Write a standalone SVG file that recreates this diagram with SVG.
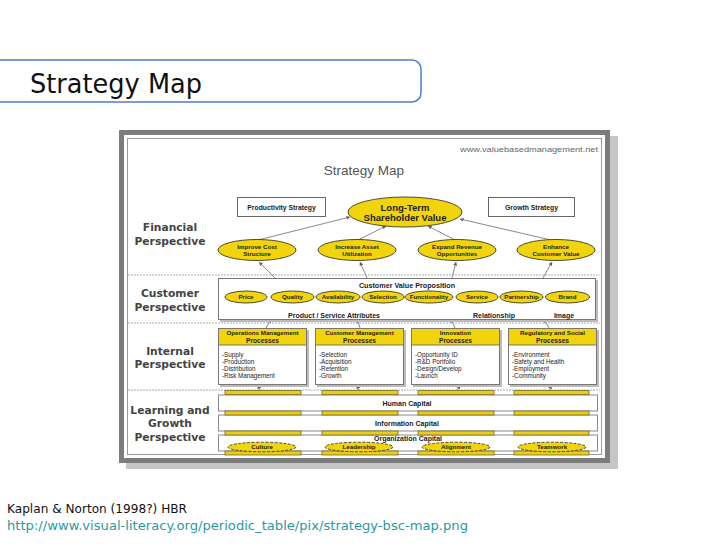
<svg xmlns="http://www.w3.org/2000/svg" width="728" height="546" viewBox="0 0 728 546">
<defs>
<style>
.t{font-family:"Liberation Sans",Arial,sans-serif;fill:#222}
.b{font-weight:bold}
.persp{font-family:"DejaVu Sans",Verdana,sans-serif;font-weight:bold;font-size:10.7px;fill:#444;text-anchor:middle}
.yel{fill:#f2d40c;stroke:#3a3a2a;stroke-width:0.9}
.dash{stroke:#aaa;stroke-width:1;stroke-dasharray:2,1;fill:none}
.con{stroke:#8a8a8a;stroke-width:1;fill:none;marker-end:url(#ah)}
.box{fill:#fff;stroke:#777;stroke-width:1}
.sh{fill:#bcbcbc}
.bar{fill:#e8cc20;stroke:#7a6c18;stroke-width:0.8}
.band{fill:#fff;stroke:#888;stroke-width:1}
.cap{font-size:7px;text-anchor:middle}
.el{font-size:6.2px;text-anchor:middle}
</style>
<marker id="ah" viewBox="0 0 6 6" refX="5.5" refY="3" markerWidth="4" markerHeight="4" orient="auto">
<path d="M0,0 L6,3 L0,6 z" fill="#666"/>
</marker>
</defs>
<rect width="728" height="546" fill="#fff"/>

<g id="title">
<rect x="-12" y="60" width="433" height="42" rx="9" fill="#fff" stroke="#4f7fc4" stroke-width="1.5"/>
<text x="30" y="93" font-family="DejaVu Sans,Verdana,sans-serif" font-size="27" fill="#111" textLength="172" lengthAdjust="spacingAndGlyphs">Strategy Map</text>
</g>

<g id="frame">
<rect x="126" y="136" width="492" height="333" fill="#c6c6c6"/>
<rect x="119" y="130" width="491" height="333" fill="#7c7c7c"/>
<rect x="124" y="135" width="481" height="323" fill="#fff"/>
<rect x="127.5" y="138.5" width="474" height="316" fill="none" stroke="#9a9a9a" stroke-width="1"/>
<text x="598" y="152" class="t" font-size="8" fill="#666" style="fill:#666" text-anchor="end" textLength="138" lengthAdjust="spacingAndGlyphs">www.valuebasedmanagement.net</text>
<text x="364" y="175" class="t" font-size="13.5" style="fill:#555" text-anchor="middle">Strategy Map</text>
</g>

<g id="separators">
<line x1="128" y1="275" x2="600" y2="275" class="dash"/>
<line x1="128" y1="323" x2="600" y2="323" class="dash"/>
<line x1="128" y1="390" x2="600" y2="390" class="dash"/>
</g>

<g id="labels">
<text class="persp" x="170" y="231">Financial</text>
<text class="persp" x="170" y="245">Perspective</text>
<text class="persp" x="170" y="297">Customer</text>
<text class="persp" x="170" y="311">Perspective</text>
<text class="persp" x="170" y="355">Internal</text>
<text class="persp" x="170" y="368">Perspective</text>
<text class="persp" x="170" y="414">Learning and</text>
<text class="persp" x="170" y="427">Growth</text>
<text class="persp" x="170" y="441">Perspective</text>
</g>

<g id="connectors">
<line class="con" x1="258" y1="240" x2="350" y2="217"/>
<line class="con" x1="358" y1="240" x2="386" y2="226"/>
<line class="con" x1="455" y1="240" x2="428" y2="226"/>
<line class="con" x1="551" y1="240" x2="460" y2="219"/>
<line class="con" x1="275" y1="278" x2="259" y2="262"/>
<line class="con" x1="367" y1="278" x2="360" y2="262"/>
<line class="con" x1="452" y1="278" x2="456" y2="262"/>
<line class="con" x1="543" y1="278" x2="552" y2="262"/>
<line class="con" x1="266" y1="328" x2="271" y2="319"/>
<line class="con" x1="360" y1="328" x2="357" y2="319"/>
<line class="con" x1="455" y1="328" x2="451" y2="319"/>
<line class="con" x1="549" y1="328" x2="544" y2="319"/>
<line class="con" x1="261" y1="393" x2="258" y2="385"/>
<line class="con" x1="360" y1="393" x2="357" y2="385"/>
<line class="con" x1="456" y1="393" x2="460" y2="385"/>
<line class="con" x1="549" y1="393" x2="551" y2="385"/>
</g>

<g id="productivity">
<rect x="237.5" y="197.5" width="88" height="19" fill="#fff" stroke="#666"/>
<text x="281.5" y="209.5" class="t b" font-size="6.8" text-anchor="middle">Productivity Strategy</text>
</g>
<g id="growth">
<rect x="488.5" y="197.5" width="86" height="19" fill="#fff" stroke="#666"/>
<text x="531.5" y="209.5" class="t b" font-size="6.8" text-anchor="middle">Growth Strategy</text>
</g>

<g id="longterm">
<ellipse cx="405" cy="212" rx="57" ry="15" class="yel"/>
<text x="405" y="211" class="t b" font-size="9.5" text-anchor="middle">Long-Term</text>
<text x="405" y="221" class="t b" font-size="9.5" text-anchor="middle">Shareholder Value</text>
</g>

<g id="fin1"><ellipse cx="257" cy="250" rx="39" ry="10.5" class="yel"/>
<text x="257" y="249" class="t b el">Improve Cost</text><text x="257" y="256" class="t b el">Structure</text></g>
<g id="fin2"><ellipse cx="357" cy="250" rx="39" ry="10.5" class="yel"/>
<text x="357" y="249" class="t b el">Increase Asset</text><text x="357" y="256" class="t b el">Utilization</text></g>
<g id="fin3"><ellipse cx="457" cy="250" rx="39" ry="10.5" class="yel"/>
<text x="457" y="249" class="t b el">Expand Revenue</text><text x="457" y="256" class="t b el">Opportunities</text></g>
<g id="fin4"><ellipse cx="556" cy="250" rx="39" ry="10.5" class="yel"/>
<text x="556" y="249" class="t b el">Enhance</text><text x="556" y="256" class="t b el">Customer Value</text></g>

<g id="customer">
<rect x="220" y="280" width="378" height="42" class="sh"/>
<rect x="218.5" y="278.5" width="377" height="41" class="box"/>
<text x="407" y="288" class="t b" font-size="7.2" text-anchor="middle">Customer Value Proposition</text>
<text x="334" y="318" class="t b" font-size="7" text-anchor="middle">Product / Service Attributes</text>
<text x="494" y="318" class="t b" font-size="7" text-anchor="middle">Relationship</text>
<text x="564" y="318" class="t b" font-size="7" text-anchor="middle">Image</text>
</g>
<g id="price"><ellipse cx="246" cy="297" rx="21" ry="6" class="yel"/><text x="246" y="299.2" class="t b el">Price</text></g>
<g id="quality"><ellipse cx="292.5" cy="297" rx="21.5" ry="6" class="yel"/><text x="292.5" y="299.2" class="t b el">Quality</text></g>
<g id="availability"><ellipse cx="338" cy="297" rx="22" ry="6" class="yel"/><text x="338" y="299.2" class="t b el">Availability</text></g>
<g id="selection"><ellipse cx="383" cy="297" rx="21" ry="6" class="yel"/><text x="383" y="299.2" class="t b el">Selection</text></g>
<g id="functionality"><ellipse cx="429" cy="297" rx="24" ry="6" class="yel"/><text x="429" y="299.2" class="t b el">Functionality</text></g>
<g id="service"><ellipse cx="477" cy="297" rx="21" ry="6" class="yel"/><text x="477" y="299.2" class="t b el">Service</text></g>
<g id="partnership"><ellipse cx="521.5" cy="297" rx="21.5" ry="6" class="yel"/><text x="521.5" y="299.2" class="t b el">Partnership</text></g>
<g id="brand"><ellipse cx="567.5" cy="297" rx="22" ry="6" class="yel"/><text x="567.5" y="299.2" class="t b el">Brand</text></g>

<g id="ops">
<rect x="220" y="330" width="89" height="57" class="sh"/>
<rect x="218.5" y="328.5" width="88" height="56" class="box"/>
<rect x="218.5" y="328.5" width="88" height="16.5" fill="#f2d40c" stroke="#777"/>
<text x="262.5" y="335" class="t b" font-size="6.2" text-anchor="middle">Operations Management</text>
<text x="262.5" y="342.5" class="t b" font-size="6.6" text-anchor="middle">Processes</text>
<text x="222" y="356.5" class="t" font-size="6.3">-Supply</text>
<text x="222" y="363.8" class="t" font-size="6.3">-Production</text>
<text x="222" y="371.1" class="t" font-size="6.3">-Distribution</text>
<text x="222" y="378.4" class="t" font-size="6.3">-Risk Management</text>
</g>
<g id="custmgmt">
<rect x="317" y="330" width="89" height="57" class="sh"/>
<rect x="315.5" y="328.5" width="88" height="56" class="box"/>
<rect x="315.5" y="328.5" width="88" height="16.5" fill="#f2d40c" stroke="#777"/>
<text x="359.5" y="335" class="t b" font-size="6.2" text-anchor="middle">Customer Management</text>
<text x="359.5" y="342.5" class="t b" font-size="6.6" text-anchor="middle">Processes</text>
<text x="319" y="356.5" class="t" font-size="6.3">-Selection</text>
<text x="319" y="363.8" class="t" font-size="6.3">-Acquisition</text>
<text x="319" y="371.1" class="t" font-size="6.3">-Retention</text>
<text x="319" y="378.4" class="t" font-size="6.3">-Growth</text>
</g>
<g id="innovation">
<rect x="413" y="330" width="89" height="57" class="sh"/>
<rect x="411.5" y="328.5" width="88" height="56" class="box"/>
<rect x="411.5" y="328.5" width="88" height="16.5" fill="#f2d40c" stroke="#777"/>
<text x="455.5" y="335" class="t b" font-size="6.2" text-anchor="middle">Innovation</text>
<text x="455.5" y="342.5" class="t b" font-size="6.6" text-anchor="middle">Processes</text>
<text x="415" y="356.5" class="t" font-size="6.3">-Opportunity ID</text>
<text x="415" y="363.8" class="t" font-size="6.3">-R&amp;D Portfolio</text>
<text x="415" y="371.1" class="t" font-size="6.3">-Design/Develop</text>
<text x="415" y="378.4" class="t" font-size="6.3">-Launch</text>
</g>
<g id="regulatory">
<rect x="510" y="330" width="89" height="57" class="sh"/>
<rect x="508.5" y="328.5" width="88" height="56" class="box"/>
<rect x="508.5" y="328.5" width="88" height="16.5" fill="#f2d40c" stroke="#777"/>
<text x="552.5" y="335" class="t b" font-size="6.2" text-anchor="middle">Regulatory and Social</text>
<text x="552.5" y="342.5" class="t b" font-size="6.6" text-anchor="middle">Processes</text>
<text x="512" y="356.5" class="t" font-size="6.3">-Environment</text>
<text x="512" y="363.8" class="t" font-size="6.3">-Safety and Health</text>
<text x="512" y="371.1" class="t" font-size="6.3">-Employment</text>
<text x="512" y="378.4" class="t" font-size="6.3">-Community</text>
</g>

<g id="learning">
<rect x="218.5" y="395" width="379" height="16" class="band"/>
<rect x="218.5" y="415" width="379" height="16" class="band"/>
<rect x="218.5" y="435" width="379" height="16" class="band"/>
<g>
<rect x="225" y="390.5" width="76" height="4" class="bar"/><rect x="322" y="390.5" width="76" height="4" class="bar"/><rect x="418" y="390.5" width="76" height="4" class="bar"/><rect x="514" y="390.5" width="75" height="4" class="bar"/>
<rect x="225" y="411" width="76" height="4" class="bar"/><rect x="322" y="411" width="76" height="4" class="bar"/><rect x="418" y="411" width="76" height="4" class="bar"/><rect x="514" y="411" width="75" height="4" class="bar"/>
<rect x="225" y="431" width="76" height="4" class="bar"/><rect x="322" y="431" width="76" height="4" class="bar"/><rect x="418" y="431" width="76" height="4" class="bar"/><rect x="514" y="431" width="75" height="4" class="bar"/>
<rect x="225" y="451" width="76" height="4" class="bar"/><rect x="322" y="451" width="76" height="4" class="bar"/><rect x="418" y="451" width="76" height="4" class="bar"/><rect x="514" y="451" width="75" height="4" class="bar"/>
</g>
<text x="407" y="406" class="t b cap">Human Capital</text>
<text x="407" y="425.5" class="t b cap">Information Capital</text>
<text x="408" y="441" class="t b cap">Organization Capital</text>
</g>
<g id="culture"><ellipse cx="262" cy="447" rx="34" ry="4.8" class="yel" stroke-dasharray="3,1.5"/><text x="262" y="449.3" class="t b el">Culture</text></g>
<g id="leadership"><ellipse cx="359" cy="447" rx="34" ry="4.8" class="yel" stroke-dasharray="3,1.5"/><text x="359" y="449.3" class="t b el">Leadership</text></g>
<g id="alignment"><ellipse cx="456" cy="447" rx="34" ry="4.8" class="yel" stroke-dasharray="3,1.5"/><text x="456" y="449.3" class="t b el">Alignment</text></g>
<g id="teamwork"><ellipse cx="552" cy="447" rx="34" ry="4.8" class="yel" stroke-dasharray="3,1.5"/><text x="552" y="449.3" class="t b el">Teamwork</text></g>

<g id="footer">
<text x="7" y="513" font-family="DejaVu Sans,Verdana,sans-serif" font-size="12.5" fill="#111" textLength="180" lengthAdjust="spacingAndGlyphs">Kaplan &amp; Norton (1998?) HBR</text>
<text x="7" y="530" font-family="DejaVu Sans,Verdana,sans-serif" font-size="12.5" fill="#2a9a9c" textLength="461" lengthAdjust="spacingAndGlyphs">http://www.visual-literacy.org/periodic_table/pix/strategy-bsc-map.png</text>
</g>
</svg>
